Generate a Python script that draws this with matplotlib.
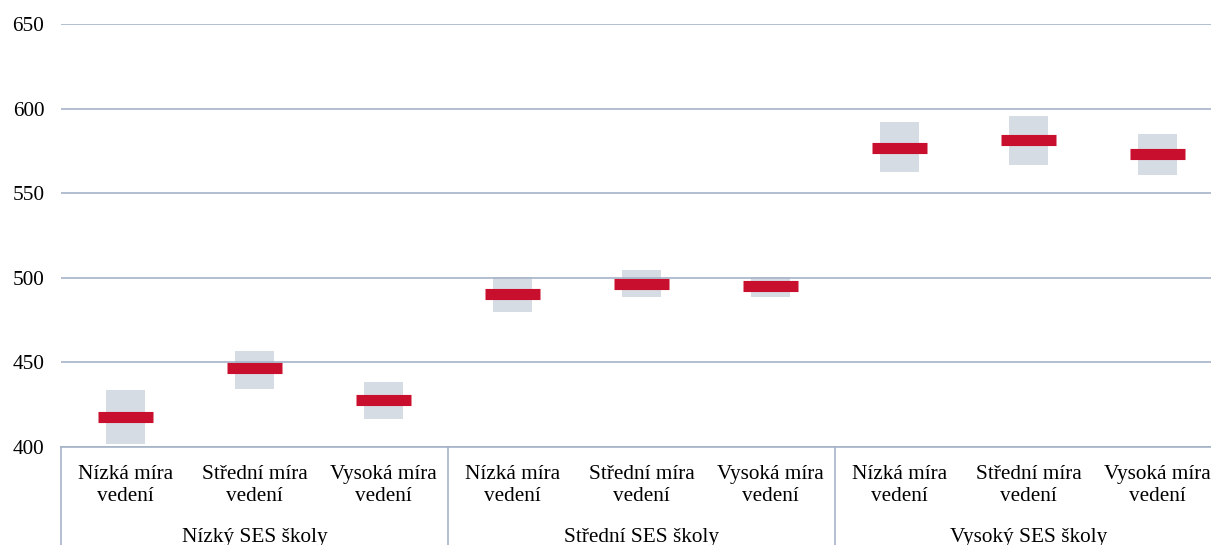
import numpy as np
import matplotlib
matplotlib.use('Agg')
import matplotlib.pyplot as plt

plt.rcParams['font.family'] = ['Liberation Serif', 'DejaVu Serif']

# data
groups = ['Nízký SES školy', 'Střední SES školy', 'Vysoký SES školy']
levels = ['Nízká míra\nvedení', 'Střední míra\nvedení', 'Vysoká míra\nvedení']
means = [418, 446.5, 427.5, 490.5, 496.5, 495, 577, 581.5, 573]
ci_low = [402, 434.5, 416.5, 479.5, 488.5, 488.5, 562.5, 566.5, 561]
ci_high = [433.5, 456.5, 438.5, 500.5, 504.5, 500.5, 592, 595.5, 585]

grid_col = '#a5b3c8'
box_col = '#d6dce4'
red_col = '#c8102e'

fig = plt.figure(figsize=(12.11, 5.45), dpi=100)
# the plot area runs a little past the right edge of the picture
ax = fig.add_axes([61/1211, 1-447/545, (1222-61)/1211, (447-24)/545])

x = np.arange(len(means))
lo = np.array(ci_low)
hi = np.array(ci_high)
ax.bar(x, hi-lo, bottom=lo, width=0.31, color=box_col, zorder=1)
ax.hlines(means, x-0.21, x+0.21, colors=red_col, lw=8, zorder=3)

ax.set_ylim(400, 650)
ax.set_xlim(-0.5, len(means)-0.5)
ax.set_yticks(np.arange(400, 651, 50))
ax.yaxis.grid(True, color=grid_col, lw=1.2, zorder=2)
ax.set_axisbelow(False)
for s in ['top', 'right', 'left']:
    ax.spines[s].set_visible(False)
ax.spines['bottom'].set_color(grid_col)
ax.spines['bottom'].set_linewidth(1.2)
ax.spines['bottom'].set_zorder(2)
ax.tick_params(axis='y', length=0, labelsize=15.3, pad=12)
ax.set_xticks(x)
ax.set_xticklabels(levels * 3, fontsize=15.3, linespacing=1.2)
ax.tick_params(axis='x', length=0, pad=13)

# group dividers and labels below the axis
tr = ax.get_xaxis_transform()
for b in [-0.5, 2.5, 5.5]:
    ax.plot([b, b], [0, -0.232], transform=tr, color=grid_col, lw=1.2, clip_on=False)
for i, g in enumerate(groups):
    ax.text(3*i+1, -0.213, g, transform=tr, ha='center', va='center', fontsize=15.3)

fig.savefig('out.png', dpi=100)
